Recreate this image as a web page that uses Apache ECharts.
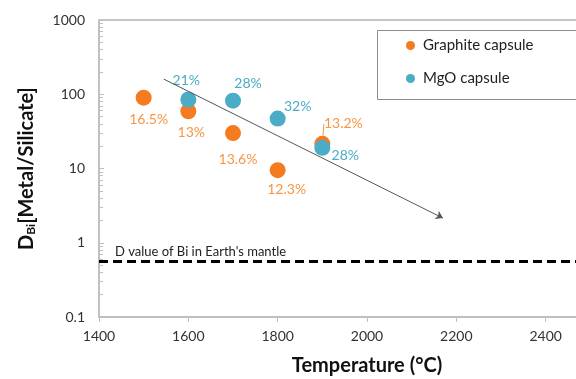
<!DOCTYPE html>
<html>
<head>
<meta charset="utf-8">
<script src="https://cdn.jsdelivr.net/npm/echarts@6/dist/echarts.min.js"></script>
<style>
  html, body { margin: 0; padding: 0; background: #fff; }
  #chart { width: 576px; height: 379px; }
</style>
</head>
<body>
<div id="chart"></div>
<script>
// graphite capsule runs
const graphiteTemp = [1500, 1600, 1700, 1800, 1900]
const graphiteD = [90, 59, 30, 9.5, 21.5]
const graphiteLabels = ['16.5%', '13%', '13.6%', '12.3%', '13.2%']
// MgO capsule runs
const mgoTemp = [1600, 1700, 1800, 1900]
const mgoD = [85, 82, 47, 19]
const mgoLabels = ['21%', '28%', '32%', '28%']
// trend arrow (start, end) and mantle value
const trendStart = [1545, 160]
const trendEnd = [2170, 2.15]
const mantleD = 0.56
const xTicks = [1400, 1600, 1800, 2000, 2200, 2400, 2600]

// label offsets in px, same order as the data
const graphiteOffsets = [[5, 22], [3, 21], [5, 26], [9, 19], [21, -20]]
const mgoOffsets = [[-2, -19], [15, -17], [20, -12], [23, 8]]
// graphite label that gets a small leader line
const leaderIdx = 4

const orange = '#f47b20'
const orangeText = '#f79646'
const blue = '#4bacc6'
const font = 'Lato'

function points(xs, ys, labels, lineIdx) {
  return xs.map((x, i) => ({
    value: [x, ys[i], labels[i]],
    labelLine: { show: i === lineIdx }
  }))
}

const chart = echarts.init(document.getElementById('chart'))
chart.setOption({
  animation: false,
  textStyle: { fontFamily: font },
  grid: {
    left: 99, top: 20, height: 297, width: 536,
    outerBoundsMode: 'none',
    containLabel: false,
    show: true, borderColor: '#b4b4b4', borderWidth: 1.5
  },
  graphic: [
    {
      type: 'rect',
      left: 377,
      top: 30,
      shape: { width: 260, height: 69 },
      style: { fill: '#fff', stroke: '#8c8c8c', lineWidth: 1 },
      z: 90
    }
  ],
  legend: {
    orient: 'vertical',
    left: 398,
    top: 30,
    padding: [8, 0, 7, 8],
    itemGap: 18,
    itemWidth: 9,
    itemHeight: 9,
    z: 100,
    textStyle: { fontFamily: font, fontSize: 15, color: '#222', padding: [0, 0, 0, 3] },
    data: [
      { name: 'Graphite capsule', icon: 'circle' },
      { name: 'MgO capsule', icon: 'circle' }
    ]
  },
  xAxis: {
    type: 'value',
    min: xTicks[0],
    max: xTicks[xTicks.length - 1],
    interval: 200,
    name: 'Temperature (°C)',
    nameLocation: 'middle',
    nameGap: 39,
    nameTextStyle: { fontFamily: font, fontSize: 20, fontWeight: 'bold', color: '#111' },
    axisLine: { lineStyle: { color: '#bfbfbf', width: 1.5 } },
    axisTick: { show: true, length: 5, lineStyle: { color: '#bfbfbf' } },
    axisLabel: { fontSize: 14, color: '#333', margin: 12, showMaxLabel: false, formatter: v => String(v) },
    splitLine: { show: false }
  },
  yAxis: {
    type: 'log',
    logBase: 10,
    min: 0.1,
    max: 1000,
    name: '{b|D}{s|Bi}{b|[Metal/Silicate]}',
    nameLocation: 'middle',
    nameGap: 62,
    nameRotate: 90,
    nameTextStyle: {
      rich: {
        b: { fontFamily: font, fontSize: 20, fontWeight: 'bold', color: '#111' },
        s: { fontFamily: font, fontSize: 12, fontWeight: 'bold', color: '#111', padding: [8, 0, 0, 0] }
      }
    },
    axisLine: { lineStyle: { color: '#bfbfbf', width: 1.5 } },
    axisTick: { show: true, inside: true, length: 5, lineStyle: { color: '#bfbfbf' } },
    minorTick: { show: true, splitNumber: 9, length: 4, lineStyle: { color: '#bfbfbf' } },
    axisLabel: {
      fontSize: 14, color: '#333', margin: 14,
      formatter: v => (v < 1 ? v.toFixed(1) : String(Math.round(v)))
    },
    splitLine: { show: false }
  },
  series: [
    {
      name: 'Graphite capsule',
      type: 'scatter',
      symbolSize: 16,
      itemStyle: { color: orange, opacity: 1 },
      label: {
        show: true,
        position: 'inside',
        formatter: p => p.value[2],
        fontFamily: font,
        fontSize: 14,
        color: orangeText
      },
      labelLine: { show: false, lineStyle: { color: orangeText, width: 1 } },
      labelLayout: p => {
        const o = graphiteOffsets[p.dataIndex]
        return { dx: o[0], dy: o[1] }
      },
      data: points(graphiteTemp, graphiteD, graphiteLabels, leaderIdx),
      z: 3
    },
    {
      name: 'MgO capsule',
      type: 'scatter',
      symbolSize: 16,
      itemStyle: { color: blue, opacity: 1 },
      label: {
        show: true,
        position: 'inside',
        formatter: p => p.value[2],
        fontFamily: font,
        fontSize: 14,
        color: blue
      },
      labelLayout: p => {
        const o = mgoOffsets[p.dataIndex]
        return { dx: o[0], dy: o[1] }
      },
      data: points(mgoTemp, mgoD, mgoLabels, -1),
      z: 4
    },
    {
      name: 'lines',
      type: 'line',
      data: [],
      markLine: {
        silent: true,
        animation: false,
        symbol: 'none',
        data: [
          [
            { coord: trendStart, symbol: 'none', lineStyle: { color: '#555', width: 1, type: 'solid' }, label: { show: false } },
            { coord: trendEnd, symbol: 'arrow', symbolSize: 7 }
          ],
          {
            yAxis: mantleD,
            lineStyle: { color: '#000', width: 3, type: [9, 5] },
            label: {
              show: true,
              position: 'insideStartTop',
              distance: [16, 3],
              formatter: "D value of Bi in Earth's mantle",
              fontFamily: font,
              fontSize: 13,
              color: '#222'
            }
          }
        ]
      }
    }
  ]
})
</script>
</body>
</html>
